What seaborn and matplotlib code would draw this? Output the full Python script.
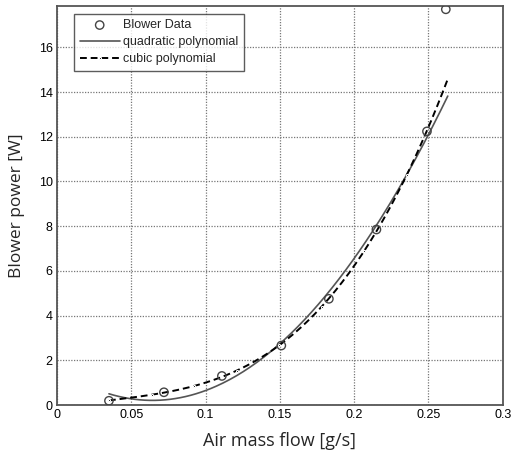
import numpy as np
import pandas as pd
import matplotlib
matplotlib.use("Agg")
import matplotlib.pyplot as plt
import seaborn as sns

# Blower data
flow = [0.035, 0.072, 0.111, 0.151, 0.183, 0.215, 0.249, 0.2617]
power = [0.19, 0.57, 1.30, 2.66, 4.75, 7.85, 12.24, 17.7]
n_fit = 7  # points used for the polynomial fits (last point excluded)

xticks = [0, 0.05, 0.1, 0.15, 0.2, 0.25, 0.3]
xticklabels = ["0", "0.05", "0.1", "0.15", "0.2", "0.25", "0.3"]
yticks = [0, 2, 4, 6, 8, 10, 12, 14, 16]

sns.set_theme(style="white")
plt.rcParams['font.family'] = ['Liberation Sans', 'DejaVu Sans']

fig = plt.figure(figsize=(5.13, 4.58), dpi=100)
ax = fig.add_axes([0.111, 0.1157, 0.869, 0.8713])

xf = np.array(flow[:n_fit]); yf = np.array(power[:n_fit])
xs = np.linspace(0.035, 0.263, 200)
q = np.polyval(np.polyfit(xf, yf, 2), xs)
c = np.polyval(np.polyfit(xf, yf, 3), xs)
dfq = pd.DataFrame({"x": xs, "y": q})
dfc = pd.DataFrame({"x": xs, "y": c})
dfd = pd.DataFrame({"x": flow, "y": power})

sns.scatterplot(data=dfd, x="x", y="y", ax=ax, marker="o", s=36,
                facecolor="none", edgecolor="#444444", linewidth=1.0,
                label="Blower Data", zorder=3)
sns.lineplot(data=dfq, x="x", y="y", ax=ax, color="#555555", lw=1.2,
             label="quadratic polynomial")
sns.lineplot(data=dfc, x="x", y="y", ax=ax, color="black", lw=1.4,
             linestyle=(0, (3.5, 2)), marker=".", markevery=25, markersize=3,
             label="cubic polynomial")

ax.set_xlim(0, 0.3)
ax.set_ylim(0, 17.85)
ax.set_xticks(xticks)
ax.set_xticklabels(xticklabels)
ax.set_yticks(yticks)
ax.tick_params(direction="in", length=4, labelsize=9, colors="black", pad=3)
ax.grid(True, color="#777777", linestyle=(0, (1, 1.2)), linewidth=0.9)
for s in ax.spines.values():
    s.set_color("#555555")
    s.set_linewidth(1.3)
ax.set_xlabel("Air mass flow [g/s]", fontsize=13, labelpad=8,
              family=['Open Sans', 'DejaVu Sans'])
ax.set_ylabel("Blower power [W]", fontsize=12.5, labelpad=10,
              family=['Open Sans', 'DejaVu Sans'])

leg = ax.legend(loc="upper left", bbox_to_anchor=(0.03, 0.99), fontsize=9,
                frameon=True, fancybox=False, edgecolor="#333333",
                borderaxespad=0.3, handlelength=3.2, labelspacing=0.4,
                borderpad=0.45, handletextpad=0.3, markerscale=1.0)
leg.get_frame().set_linewidth(1.0)

fig.savefig("out.png", dpi=100, facecolor="white")
